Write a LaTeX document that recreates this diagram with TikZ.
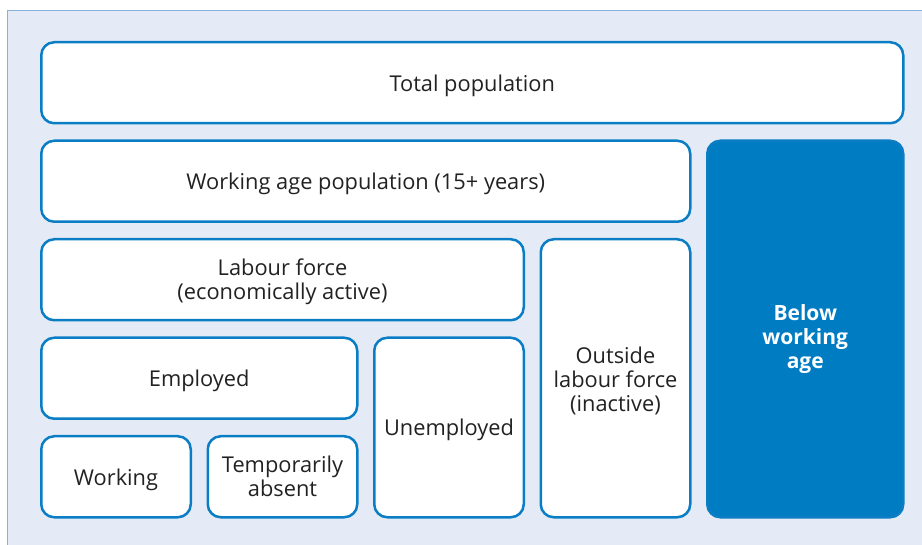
\documentclass[tikz,border=0pt]{standalone}
\usepackage{fontspec}
\setmainfont{Open Sans}
\usetikzlibrary{positioning}
\definecolor{frameblue}{HTML}{8AB0DD}
\definecolor{paleblue}{HTML}{E5EBF6}
\definecolor{boxblue}{HTML}{0A7DC4}
\definecolor{darkblue}{HTML}{007CC3}
\definecolor{textgrey}{HTML}{222222}
\newcommand{\toppad}[1]{\rule{0pt}{#1}}

\begin{document}
\begin{tikzpicture}[
        x=1pt, y=1pt,
        node distance=15pt,
        box/.style={draw=boxblue, line width=2.5pt, rounded corners=13pt, fill=white,
            align=center, text=textgrey, inner sep=2pt, minimum height=81pt,
            font=\fontsize{21.8}{24}\selectfont, execute at begin node={\toppad{22pt}}},
        col/.style={minimum width=149.5pt},
        filled/.style={fill=darkblue, text=white, font=\fontsize{21}{24}\selectfont\bfseries}
    ]
    % frame
    \useasboundingbox (0,0) rectangle (922,-545);
    \path[fill=paleblue, draw=frameblue, line width=1.5pt] (7.5,-10.5) rectangle (930,-560);

    \node[box, minimum width=862pt, anchor=north west] (total) at (40,-41) {Total population};
    \node[box, minimum width=649pt, below=of total.south west, anchor=north west] (workage) {Working age population (15+ years)};
    \node[box, filled, minimum width=196pt, minimum height=376.5pt, below=of total.south east, anchor=north east] (below) {\toppad{36pt}Below\\working\\age};
    \node[box, minimum width=482.5pt, below=of workage.south west, anchor=north west] (labour) {\toppad{21pt}Labour force\\(economically active)};
    \node[box, col, minimum height=278pt, below=of workage.south east, anchor=north east] (outside) {\toppad{22pt}Outside\\labour force\\(inactive)};
    \node[box, minimum width=316pt, below=of labour.south west, anchor=north west] (employed) {Employed};
    \node[box, col, minimum height=179.5pt, below=of labour.south east, anchor=north east] (unemployed) {Unemployed};
    \node[box, col, below=of employed.south west, anchor=north west] (working) {Working};
    \node[box, col, below=of employed.south east, anchor=north east] (absent) {Temporarily\\absent};
\end{tikzpicture}
\end{document}
